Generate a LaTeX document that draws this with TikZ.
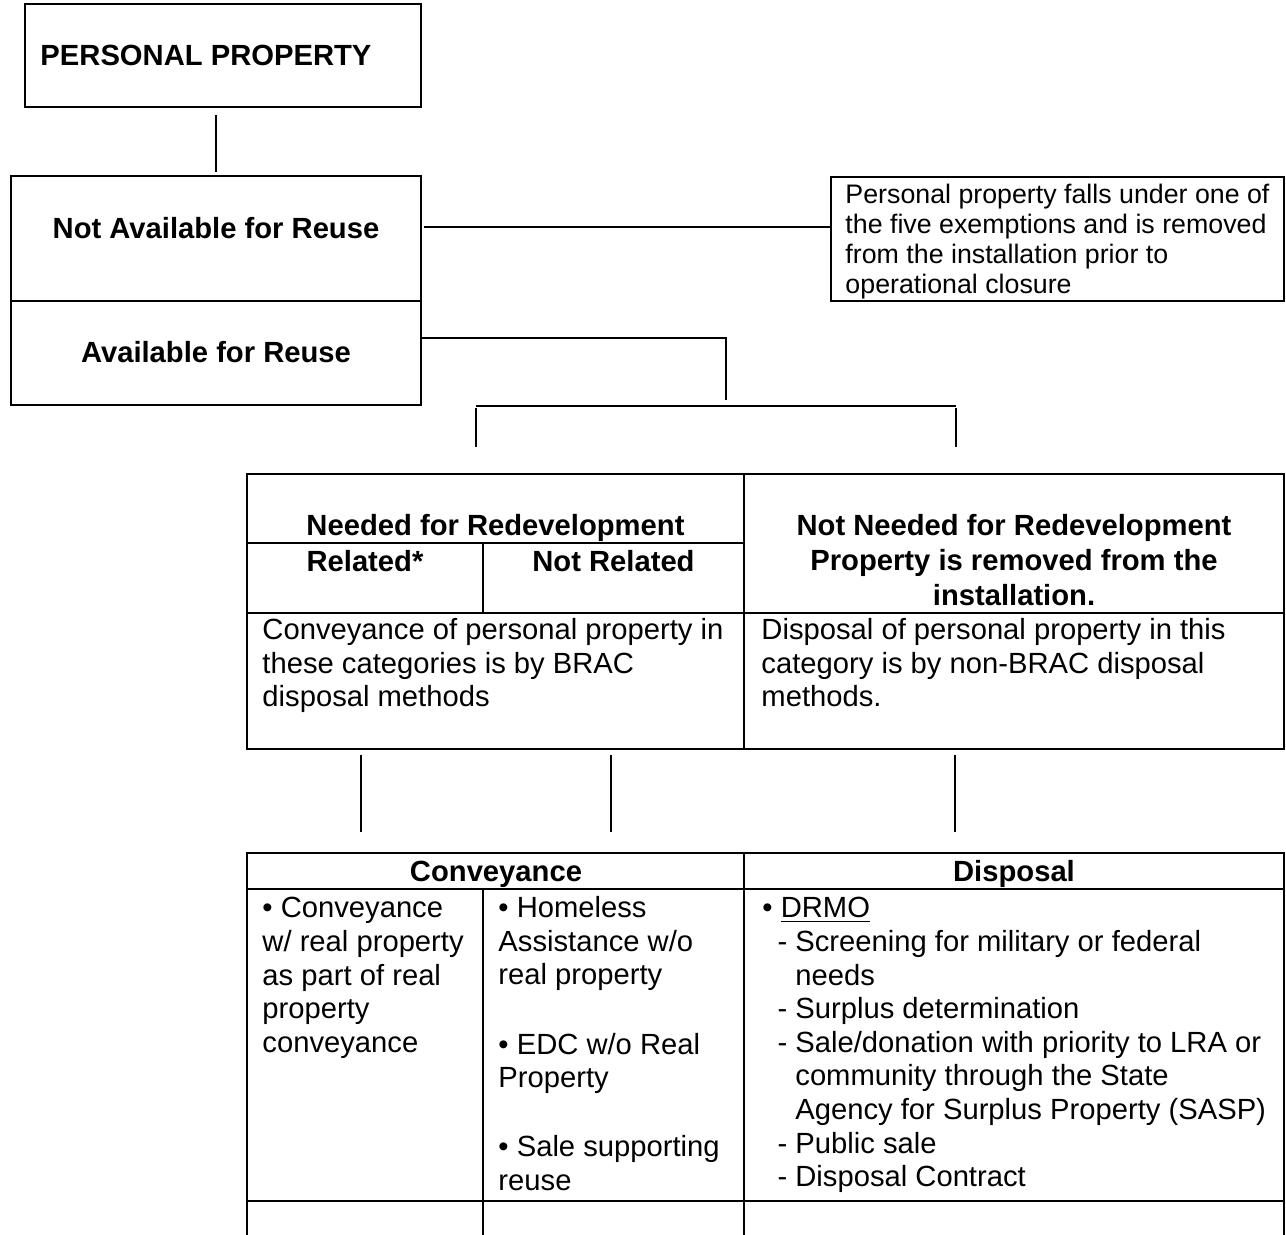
\documentclass[tikz,border=0pt]{standalone}
\usepackage{fontspec}
\setmainfont{Liberation Sans}
\usetikzlibrary{fit}
\tikzset{
  frame/.style={draw,line width=1.1pt,inner sep=0pt},
  rule/.style={line width=1.1pt},
  link/.style={line width=0.8pt},
  head/.style={font=\fontsize{12}{14.4}\selectfont\bfseries,align=center,inner sep=0pt,anchor=base},
  body/.style={font=\fontsize{12}{13.8}\selectfont,align=left,inner sep=0pt,anchor=base west},
}
\begin{document}
\begin{tikzpicture}[x=0.411pt,y=-0.411pt]
  \useasboundingbox (0,0) rectangle (1286,1235);
  % boxes on the left
  \node[frame,fit={(25,4) (421,107)}] (pp) {};
  \node[head,anchor=base west] (pplab) at (40,66) {PERSONAL PROPERTY};
  \node[frame,fit={(11,176) (421,301)}] (notav) {};
  \node[frame,fit={(11,301) (421,405)}] (avail) {};
  \node[head] (notavlab) at (216,239) {Not Available for Reuse};
  \node[head] (availlab) at (216,363) {Available for Reuse};
  % exemptions (multi-line nodes sit on their last baseline)
  \node[frame,fit={(831,177) (1284,301)}] (exempt) {};
  \node[body,font=\fontsize{11}{12.3}\selectfont] (exemptlab) at (845,293.6)
    {Personal property falls under one of\\the five exemptions and is removed\\from the installation prior to\\operational closure};
  \draw[link,shorten <=2.9pt,shorten >=1.2pt] (pp.south -| notav.north) -- (notav.north);
  \coordinate (j1) at (421,227);
  \draw[link,shorten <=1.2pt] (j1) -- (j1 -| exempt.west);
  \coordinate (j2) at (421,338); \coordinate (j3) at (726,400);
  \draw[link] (j2) -| (j3);
  \coordinate (bl) at (476,406); \coordinate (br) at (956,406);
  \draw[link] (bl) -- (br);
  \draw[link] (bl) ++(0,2) -- ++(0,39);
  \draw[link] (br) ++(0,2) -- ++(0,39);
  % needed / not needed
  \node[frame,fit={(247,474) (1284,749)}] (needtab) {};
  \draw[rule] (744,474) -- (744,749);
  \draw[rule] (247,543) -- (744,543);
  \draw[rule] (483,543) -- (483,613);
  \draw[rule] (247,613) -- (1284,613);
  \node[head] (needlab) at (495.5,536) {Needed for Redevelopment};
  \node[head] (rellab) at (365,572) {Related*};
  \node[head] (notrellab) at (613.5,572) {Not Related};
  \node[head] (notneedlab) at (1014,606) {Not Needed for Redevelopment\\Property is removed from the\\installation.};
  \node[body] (convtxt) at (262,707) {Conveyance of personal property in\\these categories is by BRAC\\disposal methods};
  \node[body] (disptxt) at (761,707) {Disposal of personal property in this\\category is by non-BRAC disposal\\methods.};
  \foreach \x [count=\i] in {361,611,955} {
    \coordinate (up\i) at (\x,755); \coordinate (dn\i) at (\x,832);
    \draw[link] (up\i) -- (dn\i);
  }
  % conveyance / disposal
  \draw[rule] (247,1240) -- (247,853) -- (1284,853) -- (1284,1240);
  \draw[rule] (744,853) -- (744,1240);
  \draw[rule] (483,889) -- (483,1240);
  \draw[rule] (247,889) -- (1284,889);
  \draw[rule] (247,1201) -- (1284,1201);
  \node[head] (convhead) at (496,882) {Conveyance};
  \node[head] (disphead) at (1014,882) {Disposal};
  \node[body] (realtxt) at (262,1052.3) {\textbullet\ Conveyance\\w/ real property\\as part of real\\property\\conveyance};
  \node[body] (notrealtxt) at (498,1190.3) {\textbullet\ Homeless\\Assistance w/o\\real property\\[14.6pt]\textbullet\ EDC w/o Real\\Property\\[14.6pt]\textbullet\ Sale supporting\\reuse};
  \node[body] (drmotxt) at (762,1186.6) {\textbullet\ \underline{DRMO}\\
    \hspace*{6.2pt}- Screening for military or federal\\
    \hspace*{6.2pt}\phantom{-\ }needs\\
    \hspace*{6.2pt}- Surplus determination\\
    \hspace*{6.2pt}- Sale/donation with priority to LRA or\\
    \hspace*{6.2pt}\phantom{-\ }community through the State\\
    \hspace*{6.2pt}\phantom{-\ }Agency for Surplus Property (SASP)\\
    \hspace*{6.2pt}- Public sale\\
    \hspace*{6.2pt}- Disposal Contract};
\end{tikzpicture}
\end{document}
